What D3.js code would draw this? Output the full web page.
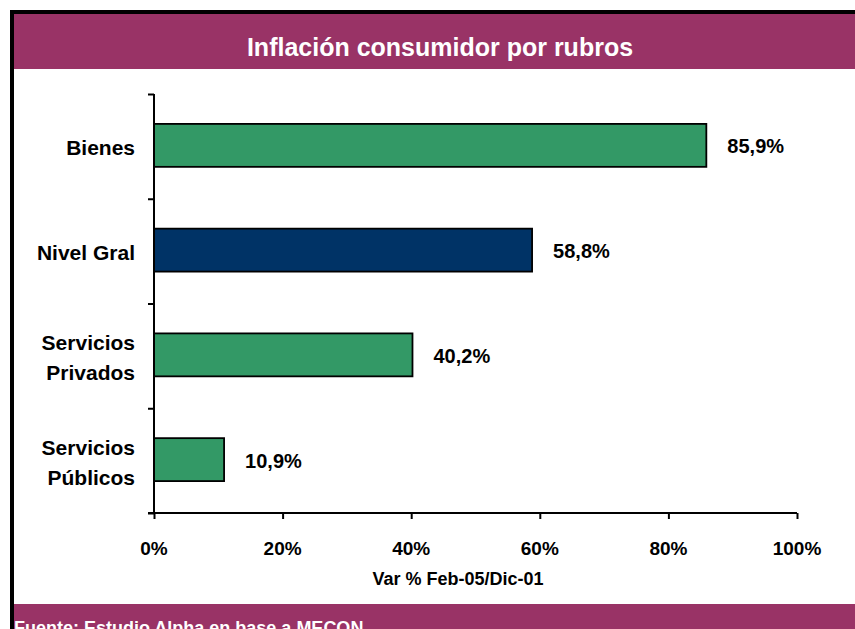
<!DOCTYPE html>
<html>
<head>
<meta charset="utf-8">
<script src="https://cdn.jsdelivr.net/npm/d3@7"></script>
<style>
  body { margin: 0; background: #fff; }
  text { font-family: "Liberation Sans", Arial, sans-serif; font-weight: bold; }
</style>
</head>
<body>
<svg id="chart"></svg>
<script>
const width = 855;
const height = 629;

// data
const categories = [['Bienes'], ['Nivel Gral'], ['Servicios', 'Privados'], ['Servicios', 'Públicos']];
const values = [85.9, 58.8, 40.2, 10.9];
const barColors = ['#339966', '#003366', '#339966', '#339966'];
const xTicks = [0, 20, 40, 60, 80, 100];
const title = 'Inflación consumidor por rubros';
const xTitle = 'Var % Feb-05/Dic-01';
const source = 'Fuente: Estudio Alpha en base a MECON';

const purple = '#993366';

const svg = d3.select('#chart')
  .attr('width', width)
  .attr('height', height);

// frame + bands
svg.append('rect').attr('x', 10).attr('y', 10).attr('width', width - 10).attr('height', height - 10).attr('fill', '#000');
svg.append('rect').attr('x', 14).attr('y', 14).attr('width', width - 14).attr('height', height - 14).attr('fill', '#fff');
svg.append('rect').attr('x', 14).attr('y', 14).attr('width', width - 14).attr('height', 55).attr('fill', purple);
svg.append('rect').attr('x', 14).attr('y', 604).attr('width', width - 14).attr('height', height - 604).attr('fill', purple);

svg.append('text')
  .attr('x', 440).attr('y', 56)
  .attr('text-anchor', 'middle')
  .attr('fill', '#fff')
  .style('font-size', '25px')
  .text(title);

svg.append('text')
  .attr('x', 14).attr('y', 634)
  .attr('fill', '#fff')
  .style('font-size', '18px')
  .text(source);

const x = d3.scaleLinear().domain([0, 100]).range([154, 797]);
const y = d3.scaleBand().domain(d3.range(categories.length)).range([94, 513])
  .paddingInner(0.59).paddingOuter(0.295);
const yEdge = d3.scaleLinear().domain([0, categories.length]).range([94, 513]);

// bars
svg.selectAll('rect.bar').data(values).enter().append('rect')
  .attr('class', 'bar')
  .attr('x', x(0))
  .attr('y', (d, i) => y(i) - 1)
  .attr('width', d => x(d) - x(0))
  .attr('height', y.bandwidth())
  .attr('fill', (d, i) => barColors[i])
  .attr('stroke', '#000')
  .attr('stroke-width', 1.8);

// value labels
svg.selectAll('text.val').data(values).enter().append('text')
  .attr('class', 'val')
  .attr('x', d => x(d) + 21)
  .attr('y', (d, i) => y(i) + y.bandwidth() / 2 + 7)
  .style('font-size', '20px')
  .text(d => d.toFixed(1).replace('.', ',') + '%');

// axes
const xAxis = svg.append('g')
  .attr('transform', `translate(0,${yEdge.range()[1]})`)
  .call(d3.axisBottom(x).tickValues(xTicks).tickSize(6).tickFormat(''));
const yAxis = svg.append('g')
  .attr('transform', `translate(${x(0)},0)`)
  .call(d3.axisLeft(yEdge).tickValues(d3.range(categories.length + 1)).tickSize(6).tickFormat(''));
[xAxis, yAxis].forEach(g => {
  g.select('.domain').attr('stroke', '#000').attr('stroke-width', 2);
  g.selectAll('.tick line').attr('stroke', '#000').attr('stroke-width', 2);
});
yAxis.select('.domain').attr('d', `M0,${yEdge.range()[0]}V${yEdge.range()[1]}`);
xAxis.select('.domain').attr('d', `M${x(0) - 6},0H${x(100)}`);

svg.selectAll('text.xt').data(xTicks).enter().append('text')
  .attr('class', 'xt')
  .attr('x', d => x(d))
  .attr('y', 555)
  .attr('text-anchor', 'middle')
  .style('font-size', '19px')
  .text(d => d + '%');

svg.append('text')
  .attr('x', 458).attr('y', 585)
  .attr('text-anchor', 'middle')
  .style('font-size', '18px')
  .text(xTitle);

// category labels
categories.forEach((lines, i) => {
  const cy = y(i) + y.bandwidth() / 2;
  const t = svg.append('text')
    .attr('text-anchor', 'end')
    .style('font-size', '21px');
  lines.forEach((s, j) => {
    t.append('tspan')
      .attr('x', 135)
      .attr('y', cy + 9 + (j - (lines.length - 1) / 2) * 30)
      .text(s);
  });
});
</script>
</body>
</html>
